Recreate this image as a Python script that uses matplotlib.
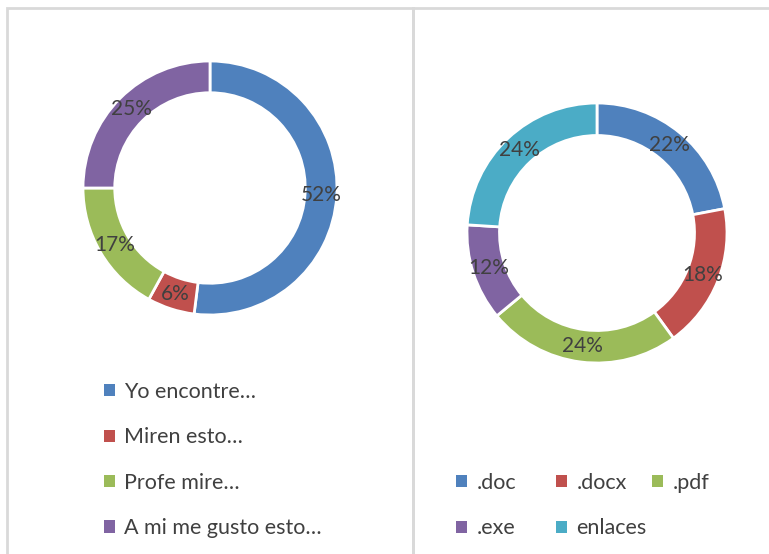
import numpy as np
import matplotlib.pyplot as plt
from matplotlib.patches import Patch, Rectangle

plt.rcParams['font.family'] = ['Lato', 'DejaVu Sans']

# datos
mensajes = ['Yo encontre…', 'Miren esto…', 'Profe mire…', 'A mi me gusto esto…']
mensajes_pct = [52, 6, 17, 25]
archivos = ['.doc', '.docx', '.pdf', '.exe', 'enlaces']
archivos_pct = [22, 18, 24, 12, 24]

colores = ['#4F81BD', '#C0504D', '#9BBB59', '#8064A2', '#4BACC6']
gris = '#404040'
W, H = 769, 554

fig = plt.figure(figsize=(W / 100, H / 100), dpi=100)

# marcos
fig.patches.append(Rectangle((7 / W, -0.1), (413 - 7) / W, (H - 8) / H + 0.1,
                             transform=fig.transFigure, fill=False,
                             edgecolor='#D9D9D9', lw=2))
fig.patches.append(Rectangle((413 / W, -0.1), 0.6, (H - 8) / H + 0.1,
                             transform=fig.transFigure, fill=False,
                             edgecolor='#D9D9D9', lw=2))


def dona(cx, cy, r, valores, cols):
    ax = fig.add_axes([(cx - r) / W, (H - cy - r) / H, 2 * r / W, 2 * r / H])
    ax.pie(valores, colors=cols, startangle=90, counterclock=False,
           radius=1, wedgeprops=dict(width=0.25, edgecolor='white', lw=2))
    tot = sum(valores)
    ang = 90.0
    for v in valores:
        mid = np.deg2rad(ang - v / tot * 360 / 2)
        ax.text(0.875 * np.cos(mid), 0.875 * np.sin(mid), f'{v}%',
                ha='center', va='center', fontsize=15, color=gris)
        ang -= v / tot * 360
    ax.set_xlim(-1, 1)
    ax.set_ylim(-1, 1)
    ax.set_aspect('equal')
    ax.axis('off')
    return ax


dona(210, 188, 127, mensajes_pct, colores[:4])
dona(597, 233, 130, archivos_pct, colores)

estilo = dict(frameon=False, fontsize=15.5, labelcolor=gris, handlelength=0.5,
              handleheight=0.5, handletextpad=0.45, borderpad=0, borderaxespad=0,
              labelspacing=1.18)

h1 = [Patch(facecolor=c) for c in colores[:4]]
fig.legend(h1, mensajes, loc='upper left', bbox_to_anchor=(104 / W, 1 - 382 / H),
           **estilo)

# leyenda derecha: tres columnas, filas de izquierda a derecha
columnas = [[0, 3], [1, 4], [2]]
xs = [456, 556, 652]
for idx, x in zip(columnas, xs):
    fig.legend([Patch(facecolor=colores[i]) for i in idx], [archivos[i] for i in idx],
               loc='upper left', bbox_to_anchor=(x / W, 1 - 473 / H), **estilo)

fig.savefig('out.png', dpi=100)
